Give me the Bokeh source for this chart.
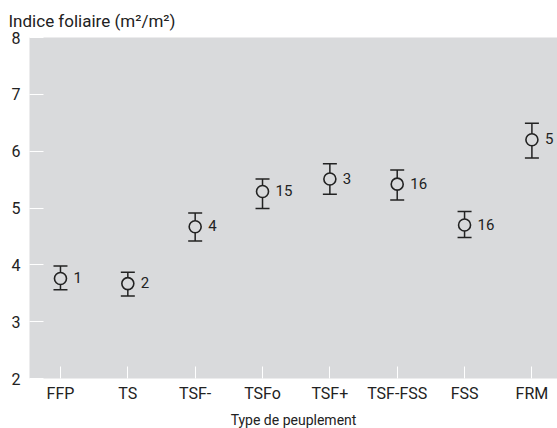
from bokeh.plotting import figure
from bokeh.models import Range1d, FixedTicker, Whisker, TeeHead, ColumnDataSource
from bokeh.core.properties import value
from bokeh.embed import file_html
from bokeh.resources import INLINE

categories = ["FFP", "TS", "TSF-", "TSFo", "TSF+", "TSF-FSS", "FSS", "FRM"]
means = [3.76, 3.67, 4.67, 5.29, 5.51, 5.42, 4.70, 6.20]
upper = [3.98, 3.87, 4.91, 5.51, 5.78, 5.67, 4.94, 6.49]
lower = [3.56, 3.45, 4.42, 4.99, 5.24, 5.14, 4.48, 5.88]
counts = ["1", "2", "4", "15", "3", "16", "16", "5"]
y_ticks = [2, 3, 4, 5, 6, 7, 8]

FONT = "'Liberation Sans Narrow', 'Roboto', sans-serif"
BG = "#d9dadc"
INK = "#222222"

xs = list(range(len(categories)))
src = ColumnDataSource(dict(x=xs, m=means, up=upper, lo=lower, n=counts))

p = figure(frame_width=528, frame_height=341, output_backend="svg", toolbar_location=None,
           x_range=Range1d(-0.46, 7.38), y_range=Range1d(2, 8),
           min_border_left=29, min_border_right=0, min_border_top=37, min_border_bottom=50)
p.background_fill_color = BG
p.border_fill_color = "white"
p.outline_line_color = None
p.xgrid.grid_line_color = None
p.ygrid.grid_line_color = None

p.title.text = "Indice foliaire (m²/m²)"
p.title.text_font = FONT
p.title.text_font_size = "17px"
p.title.text_font_style = "normal"
p.title.text_color = INK
p.title.align = "left"
p.title.offset = -21
p.title.standoff = 13

# axes
p.yaxis.ticker = FixedTicker(ticks=y_ticks)
p.yaxis.axis_line_color = None
p.yaxis.major_tick_in = 14
p.yaxis.major_tick_out = 0
p.yaxis.major_tick_line_color = "white"
p.yaxis.minor_tick_line_color = None
p.yaxis.major_label_text_font = FONT
p.yaxis.major_label_text_font_size = "16px"
p.yaxis.major_label_text_color = INK
p.yaxis.major_label_standoff = 9

p.xaxis.ticker = FixedTicker(ticks=xs)
p.xaxis.major_label_overrides = {i: c for i, c in enumerate(categories)}
p.xaxis.axis_line_color = None
p.xaxis.major_tick_in = 12
p.xaxis.major_tick_out = 0
p.xaxis.major_tick_line_color = "white"
p.xaxis.minor_tick_line_color = None
p.xaxis.major_label_text_font = FONT
p.xaxis.major_label_text_font_size = "16px"
p.xaxis.major_label_text_color = INK
p.xaxis.major_label_standoff = 5
p.xaxis.axis_label = "Type de peuplement"
p.xaxis.axis_label_text_font = FONT
p.xaxis.axis_label_text_font_size = "14px"
p.xaxis.axis_label_text_font_style = "normal"
p.xaxis.axis_label_text_color = INK
p.xaxis.axis_label_standoff = 6

w = Whisker(source=src, base="x", upper="up", lower="lo", dimension="height",
            line_color=INK, line_width=1.5,
            upper_head=TeeHead(size=14, line_color=INK, line_width=1.5),
            lower_head=TeeHead(size=14, line_color=INK, line_width=1.5))
p.add_layout(w)

p.scatter("x", "m", source=src, size=12, fill_color=BG, line_color=INK, line_width=1.6)

p.text("x", "m", text="n", source=src, x_offset=13, y_offset=-1,
       text_font=value(FONT), text_font_size="15px", text_color=INK,
       text_baseline="middle", text_align="left")

open("out.html", "w").write(file_html(p, INLINE))
